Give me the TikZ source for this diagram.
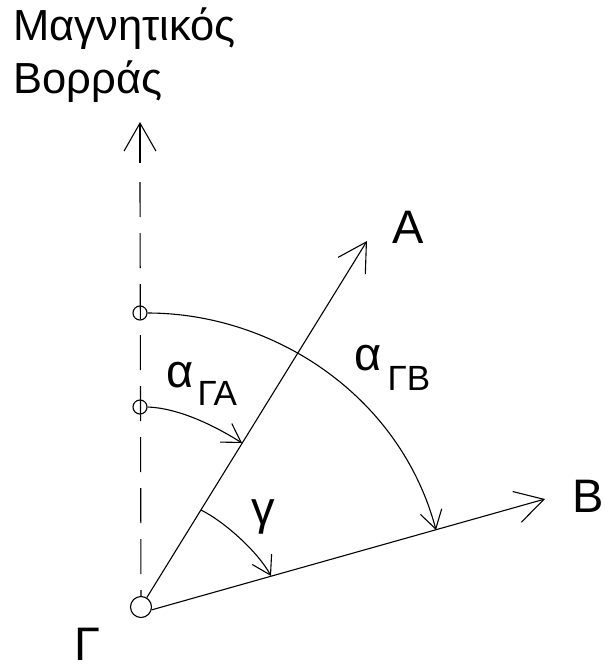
\documentclass[tikz,border=0pt]{standalone}
\usepackage{fontspec}
\setmainfont{Liberation Sans}
\usetikzlibrary{arrows.meta}
\begin{document}
\begin{tikzpicture}[x=1pt,y=-1pt, line width=1.1pt,
  lbl/.style={inner sep=0pt, anchor=base west, font=\fontsize{47}{50}\selectfont},
  sublbl/.style={inner sep=0pt, anchor=base west, font=\fontsize{35}{38}\selectfont},
  ttl/.style={inner sep=0pt, anchor=base west, font=\fontsize{43.5}{46}\selectfont},
  bigarrow/.style={-{Straight Barb[length=28pt,width=32pt,line width=1.1pt]}},
  smallarrow/.style={-{Straight Barb[length=18pt,width=22pt,line width=1.1pt]}},
  ptcircle/.style={circle, draw, minimum size=14pt, inner sep=0pt},
  northdash/.style={dash pattern=on 35pt off 16pt},
]
\useasboundingbox (0,0) rectangle (605,667);
% points
\node[ptcircle, minimum size=21pt] (G) at (141,607) {};
\node[ptcircle] (c1) at (140,313) {};
\node[ptcircle] (c2) at (140,407) {};
\coordinate (N) at (140,122);
\coordinate (Nd) at (140,163);
\coordinate (Ds) at (140,182);
\coordinate (At) at (367,241);
\coordinate (Bt) at (545,499);
\coordinate (Ct) at (436,530);
\coordinate (Ca) at (242,443);
\coordinate (Cg) at (201,510);
\coordinate (Cg2) at (271,576);
% magnetic north
\draw[bigarrow] (Nd) -- (N);
\draw[northdash] (Ds) -- (G);
% directions
\draw[bigarrow] (G) -- (At);
\draw[bigarrow] (G.-15) -- (Bt);
% angle arcs
\draw[smallarrow] (c1.east) .. controls (273,313) and (400,395) .. (Ct);
\draw[smallarrow] (c2.east) .. controls (177,408) and (212,424) .. (Ca);
\draw[smallarrow] (Cg) .. controls (225,522) and (258,552) .. (Cg2);
% labels
\node[ttl] (t1) at (13,40) {Μαγνητικός};
\node[ttl] (t2) at (13,93) {Βορράς};
\node[lbl] (lA) at (392,243) {Α};
\node[lbl] (lB) at (572,512) {Β};
\node[lbl] (lG) at (74,660) {Γ};
\node[lbl] (a1) at (166,387) {α};
\node[sublbl] (s1) at (197,405) {ΓΑ};
\node[lbl] (a2) at (354,370) {α};
\node[sublbl] (s2) at (387,390) {ΓΒ};
\node[lbl] (lg) at (251,524) {γ};
\end{tikzpicture}
\end{document}
